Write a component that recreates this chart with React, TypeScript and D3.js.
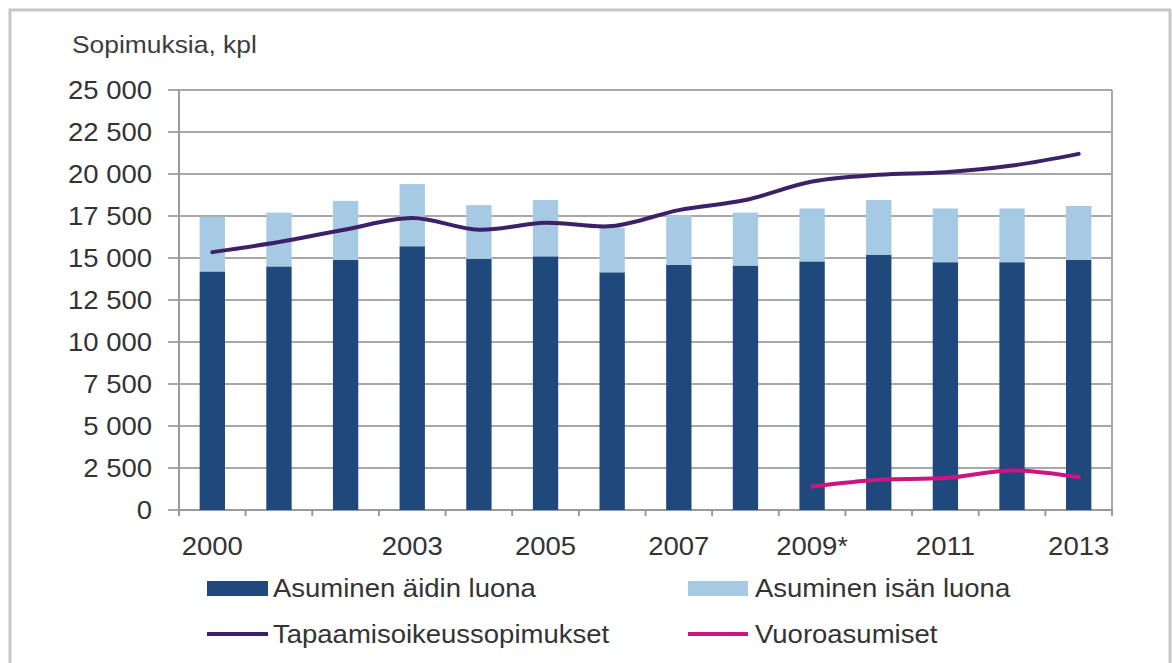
import { useEffect } from "react";
import * as d3 from "d3";

// values (kpl)
const years = ["2000", "2001", "2002", "2003", "2004", "2005", "2006", "2007", "2008", "2009", "2010", "2011", "2012", "2013"];
const yearLabels = ["2000", "", "", "2003", "", "2005", "", "2007", "", "2009*", "", "2011", "", "2013"];
const motherValues = [14200, 14500, 14900, 15700, 14950, 15100, 14150, 14600, 14550, 14800, 15200, 14750, 14750, 14900];
const fatherValues = [3250, 3200, 3500, 3700, 3200, 3350, 2650, 2950, 3150, 3150, 3250, 3200, 3200, 3200];
const visitationValues = [15350, 15950, 16700, 17380, 16680, 17100, 16900, 17850, 18450, 19550, 19950, 20100, 20500, 21200];
const alternatingValues: (number | null)[] = [null, null, null, null, null, null, null, null, null, 1400, 1800, 1900, 2350, 1950];
const yTicks = [0, 2500, 5000, 7500, 10000, 12500, 15000, 17500, 20000, 22500, 25000];

const W = 1172;
const H = 663;
const M = { left: 179, right: 1112, top: 90, bottom: 510 };

const DARK = "#1f497d";
const LIGHT = "#a7cae4";
const PURPLE = "#3d2067";
const PINK = "#cc1580";
const TEXT = "#333333";
const FONT = "'Liberation Sans', Arial, sans-serif";
const FS = 25;
const SX = 1.1; // text in the picture is a bit wider than normal Arial

const fmt = (v: number) => d3.format(",")(v).replace(/,/g, " ");

export default function App() {
  useEffect(() => {
    document.body.style.margin = "0";
  }, []);

  const x = d3.scaleBand<string>().domain(years).range([M.left, M.right]).paddingInner(0.62).paddingOuter(0.31);
  const y = d3.scaleLinear().domain([0, 25000]).range([M.bottom, M.top]);
  const step = x.step();
  const cx = (d: string) => (x(d) ?? 0) + x.bandwidth() / 2;

  const line = d3
    .line<number>()
    .x((_, i) => cx(years[i]))
    .y((d) => y(d))
    .curve(d3.curveCatmullRom.alpha(0.5));

  const altPts = alternatingValues
    .map((v, i) => ({ v, i }))
    .filter((p) => p.v !== null) as { v: number; i: number }[];
  const altLine = d3
    .line<{ v: number; i: number }>()
    .x((p) => cx(years[p.i]))
    .y((p) => y(p.v))
    .curve(d3.curveCatmullRom.alpha(0.5));

  const txt = (tx: number, ty: number, s: string, anchor = "start", size = FS, fill = TEXT) => (
    <g transform={`translate(${tx},${ty}) scale(${SX},1)`}>
      <text fontSize={size} fill={fill} textAnchor={anchor} fontFamily={FONT}>
        {s}
      </text>
    </g>
  );

  const boundaries = d3.range(years.length + 1).map((i) => M.left + i * step);

  return (
    <svg width={W} height={H} style={{ display: "block" }}>
      <rect x={0} y={0} width={W} height={H} fill="#ffffff" />
      {/* outer frame */}
      <path d={`M10,${H + 5} L10,10 L1170,10 L1170,${H + 5}`} fill="none" stroke="#c6c6c6" strokeWidth={3} />

      {txt(72, 53, "Sopimuksia, kpl", "start", 24, "#3c3c3c")}

      {/* grid + y ticks */}
      {yTicks.map((t) => (
        <g key={t}>
          <line x1={168} x2={M.right} y1={y(t)} y2={y(t)} stroke="#a8a8a8" strokeWidth={2} />
          {txt(152, y(t) + 9, fmt(t), "end")}
        </g>
      ))}
      <line x1={M.left} x2={M.left} y1={M.top} y2={M.bottom + 6} stroke="#9a9a9a" strokeWidth={2} />
      <line x1={M.right} x2={M.right} y1={M.top} y2={M.bottom + 6} stroke="#a8a8a8" strokeWidth={2} />
      <line x1={M.left} x2={M.right} y1={M.bottom} y2={M.bottom} stroke="#9a9a9a" strokeWidth={2} />
      {boundaries.map((b, i) => (
        <line key={i} x1={b} x2={b} y1={M.bottom} y2={M.bottom + 6} stroke="#9a9a9a" strokeWidth={2} />
      ))}

      {/* stacked bars */}
      {years.map((yr, i) => (
        <g key={yr}>
          <rect x={x(yr)} width={x.bandwidth()} y={y(motherValues[i])} height={y(0) - y(motherValues[i])} fill={DARK} />
          <rect
            x={x(yr)}
            width={x.bandwidth()}
            y={y(motherValues[i] + fatherValues[i])}
            height={y(motherValues[i]) - y(motherValues[i] + fatherValues[i])}
            fill={LIGHT}
          />
        </g>
      ))}

      <path d={line(visitationValues) ?? ""} fill="none" stroke={PURPLE} strokeWidth={4} strokeLinecap="round" />
      <path d={altLine(altPts) ?? ""} fill="none" stroke={PINK} strokeWidth={4} strokeLinecap="round" />

      {/* x labels */}
      {years.map((yr, i) => (yearLabels[i] ? <g key={yr}>{txt(cx(yr), 555, yearLabels[i], "middle", 25)}</g> : null))}

      {/* legend */}
      <rect x={207} y={581} width={61} height={15} fill={DARK} />
      {txt(273, 597, "Asuminen äidin luona")}
      <rect x={688} y={581} width={60} height={15} fill={LIGHT} />
      {txt(755, 597, "Asuminen isän luona")}
      <line x1={207} x2={268} y1={634} y2={634} stroke={PURPLE} strokeWidth={4} />
      {txt(273, 643, "Tapaamisoikeussopimukset")}
      <line x1={688} x2={748} y1={634} y2={634} stroke={PINK} strokeWidth={4} />
      {txt(755, 643, "Vuoroasumiset")}
    </svg>
  );
}
